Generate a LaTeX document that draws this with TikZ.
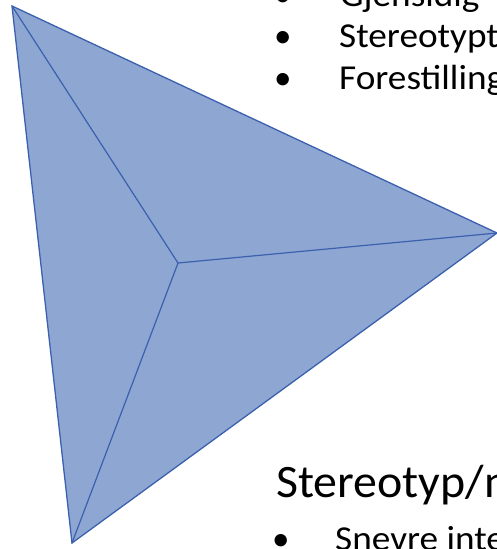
\documentclass[tikz,border=0pt]{standalone}
\usepackage{fontspec}
\setmainfont{Carlito}
\newfontfamily\bodyfont[FakeStretch=1.065]{Carlito}
\newfontfamily\headfont[FakeStretch=1.03]{Carlito}
\definecolor{pyrfill}{HTML}{8EA6D2}
\definecolor{pyrline}{HTML}{3A60AE}
\begin{document}
\begin{tikzpicture}[x=1pt,y=-1pt,
  face/.style={fill=pyrfill,draw=pyrline,line width=1.3pt,line join=miter},
  edge/.style={draw=pyrline,line width=1.2pt},
  body/.style={anchor=base west,inner sep=0pt,font=\bodyfont\fontsize{35}{41}\selectfont},
  head/.style={anchor=base west,inner sep=0pt,font=\headfont\fontsize{46.5}{55}\selectfont},
  bul/.style={anchor=base west,inner sep=0pt,font=\fontsize{35}{41}\selectfont}]
\useasboundingbox (0,0) rectangle (497,549);
\clip (0,0) rectangle (497,549);
\coordinate (A) at (12,6);
\coordinate (B) at (497,233);
\coordinate (C) at (72,543);
\coordinate (O) at (178,263);
\path[face] (A) -- (B) -- (C) -- cycle;
\draw[edge] (O) -- (A);
\draw[edge] (O) -- (B);
\draw[edge] (O) -- (C);
\node[bul] (b0) at (274,6) {•};
\node[body] (t0) at (340,6) {Gjensidig};
\node[bul] (b1) at (274,47) {•};
\node[body] (t1) at (339,47) {Stereotypt};
\node[bul] (b2) at (274,89) {•};
\node[body] (t2) at (339,89) {Forestilling};
\node[head] (h) at (276,497) {Stereotyp/n};
\node[bul] (b3) at (272,550) {•};
\node[body] (t3) at (335,550) {Snevre inte};
\end{tikzpicture}
\end{document}
